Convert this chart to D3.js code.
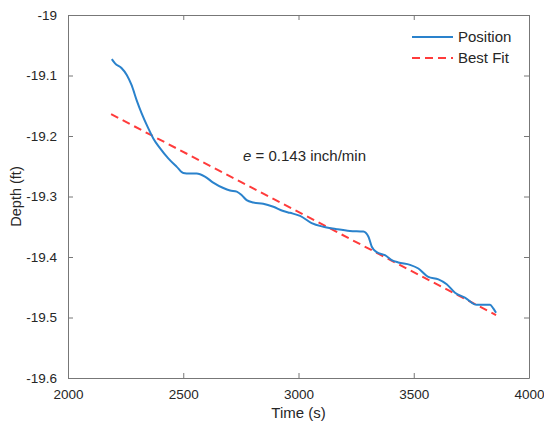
<!DOCTYPE html>
<html>
<head>
<meta charset="utf-8">
<script src="https://cdn.jsdelivr.net/npm/d3@7"></script>
<style>
  body { margin: 0; background: #fff; }
  svg text { font-family: "Liberation Sans", Arial, sans-serif; fill: #262626; }
</style>
</head>
<body>
<div class="chart"></div>
<script>
// data
var timeS = [2190, 2204, 2233, 2255, 2276, 2298, 2320, 2348, 2370, 2399, 2435, 2472, 2500, 2529, 2558,
             2594, 2630, 2674, 2703, 2732, 2754, 2775, 2804, 2847, 2891, 2934, 2963, 3007, 3057, 3108,
             3166, 3223, 3281, 3303, 3318, 3339, 3375, 3404, 3433, 3484, 3520, 3563, 3607, 3643, 3679,
             3722, 3773, 3831, 3845, 3857];
var depthFt = [-19.073, -19.080, -19.088, -19.099, -19.116, -19.141, -19.163, -19.187, -19.204, -19.220,
               -19.237, -19.251, -19.261, -19.262, -19.262, -19.267, -19.277, -19.286, -19.290, -19.292,
               -19.298, -19.306, -19.310, -19.312, -19.317, -19.324, -19.327, -19.332, -19.344, -19.350,
               -19.354, -19.357, -19.358, -19.366, -19.383, -19.392, -19.397, -19.405, -19.409, -19.413,
               -19.419, -19.433, -19.437, -19.445, -19.459, -19.467, -19.479, -19.479, -19.485, -19.492];
var fitTime = [2187, 3857];
var fitDepth = [-19.164, -19.496];
var xTicks = [2000, 2500, 3000, 3500, 4000];
var yTicks = [-19, -19.1, -19.2, -19.3, -19.4, -19.5, -19.6];
var seriesNames = ["Position", "Best Fit"];

// canvas
var width = 544, height = 423;
var svg = d3.select(".chart").append("svg")
            .attr("width", width)
            .attr("height", height);
var padding = {left: 68, right: 15, top: 15, bottom: 45};

// scales
var xScale = d3.scaleLinear().domain([2000, 4000]).range([padding.left, width - padding.right]);
var yScale = d3.scaleLinear().domain([-19.6, -19]).range([height - padding.bottom, padding.top]);

var axisColor = "#777";
var tick = 5;

// axes
var fmt = function(d) { return String(d); };
var gx = svg.append("g").attr("transform", "translate(0," + (height - padding.bottom) + ")")
            .call(d3.axisBottom(xScale).tickValues(xTicks).tickSizeInner(-tick).tickSizeOuter(0).tickPadding(11).tickFormat(fmt));
var gxt = svg.append("g").attr("transform", "translate(0," + padding.top + ")")
             .call(d3.axisTop(xScale).tickValues(xTicks).tickSizeInner(-tick).tickSizeOuter(0).tickFormat(""));
var gy = svg.append("g").attr("transform", "translate(" + padding.left + ",0)")
            .call(d3.axisLeft(yScale).tickValues(yTicks).tickSizeInner(-tick).tickSizeOuter(0).tickPadding(11).tickFormat(fmt));
var gyr = svg.append("g").attr("transform", "translate(" + (width - padding.right) + ",0)")
             .call(d3.axisRight(yScale).tickValues(yTicks).tickSizeInner(-tick).tickSizeOuter(0).tickFormat(""));

[gx, gxt, gy, gyr].forEach(function(g) {
    g.selectAll("path").attr("stroke", axisColor);
    g.selectAll("line").attr("stroke", axisColor);
    g.selectAll("text").style("font-size", "13.5px").attr("fill", "#333");
});

// labels
svg.append("text").attr("x", (xScale(2000) + xScale(4000)) / 2).attr("y", 418)
   .attr("text-anchor", "middle").style("font-size", "15px").text("Time (s)");
svg.append("text").attr("transform", "translate(21," + ((yScale(-19) + yScale(-19.6)) / 2) + ") rotate(-90)")
   .attr("text-anchor", "middle").style("font-size", "14.5px").text("Depth (ft)");

// lines
var posData = timeS.map(function(t, i) { return [t, depthFt[i]]; });
var fitData = fitTime.map(function(t, i) { return [t, fitDepth[i]]; });
var line = d3.line()
             .x(function(d) { return xScale(d[0]); })
             .y(function(d) { return yScale(d[1]); })
             .curve(d3.curveMonotoneX);

svg.append("path").datum(fitData).attr("d", line)
   .attr("fill", "none").attr("stroke", "#ff3b3b").attr("stroke-width", 2)
   .attr("stroke-dasharray", "8,5");
svg.append("path").datum(posData).attr("d", line)
   .attr("fill", "none").attr("stroke", "#2a82cc").attr("stroke-width", 2);

// annotation
var note = svg.append("text").attr("x", 243).attr("y", 161).style("font-size", "15px");
note.append("tspan").style("font-style", "italic").text("e");
note.append("tspan").text(" = 0.143 inch/min");

// legend
var legend = svg.append("g").attr("transform", "translate(412,0)");
var legendY = [37, 58];
legend.append("line").attr("x1", 0).attr("x2", 41).attr("y1", legendY[0]).attr("y2", legendY[0])
      .attr("stroke", "#2a82cc").attr("stroke-width", 2);
legend.append("line").attr("x1", 0).attr("x2", 41).attr("y1", legendY[1]).attr("y2", legendY[1])
      .attr("stroke", "#ff3b3b").attr("stroke-width", 2).attr("stroke-dasharray", "8,5");
legend.selectAll(".lg").data(seriesNames).enter().append("text")
      .attr("class", "lg")
      .attr("x", 46)
      .attr("y", function(d, i) { return legendY[i] + 5; })
      .style("font-size", "15px")
      .text(function(d) { return d; });
</script>
</body>
</html>
